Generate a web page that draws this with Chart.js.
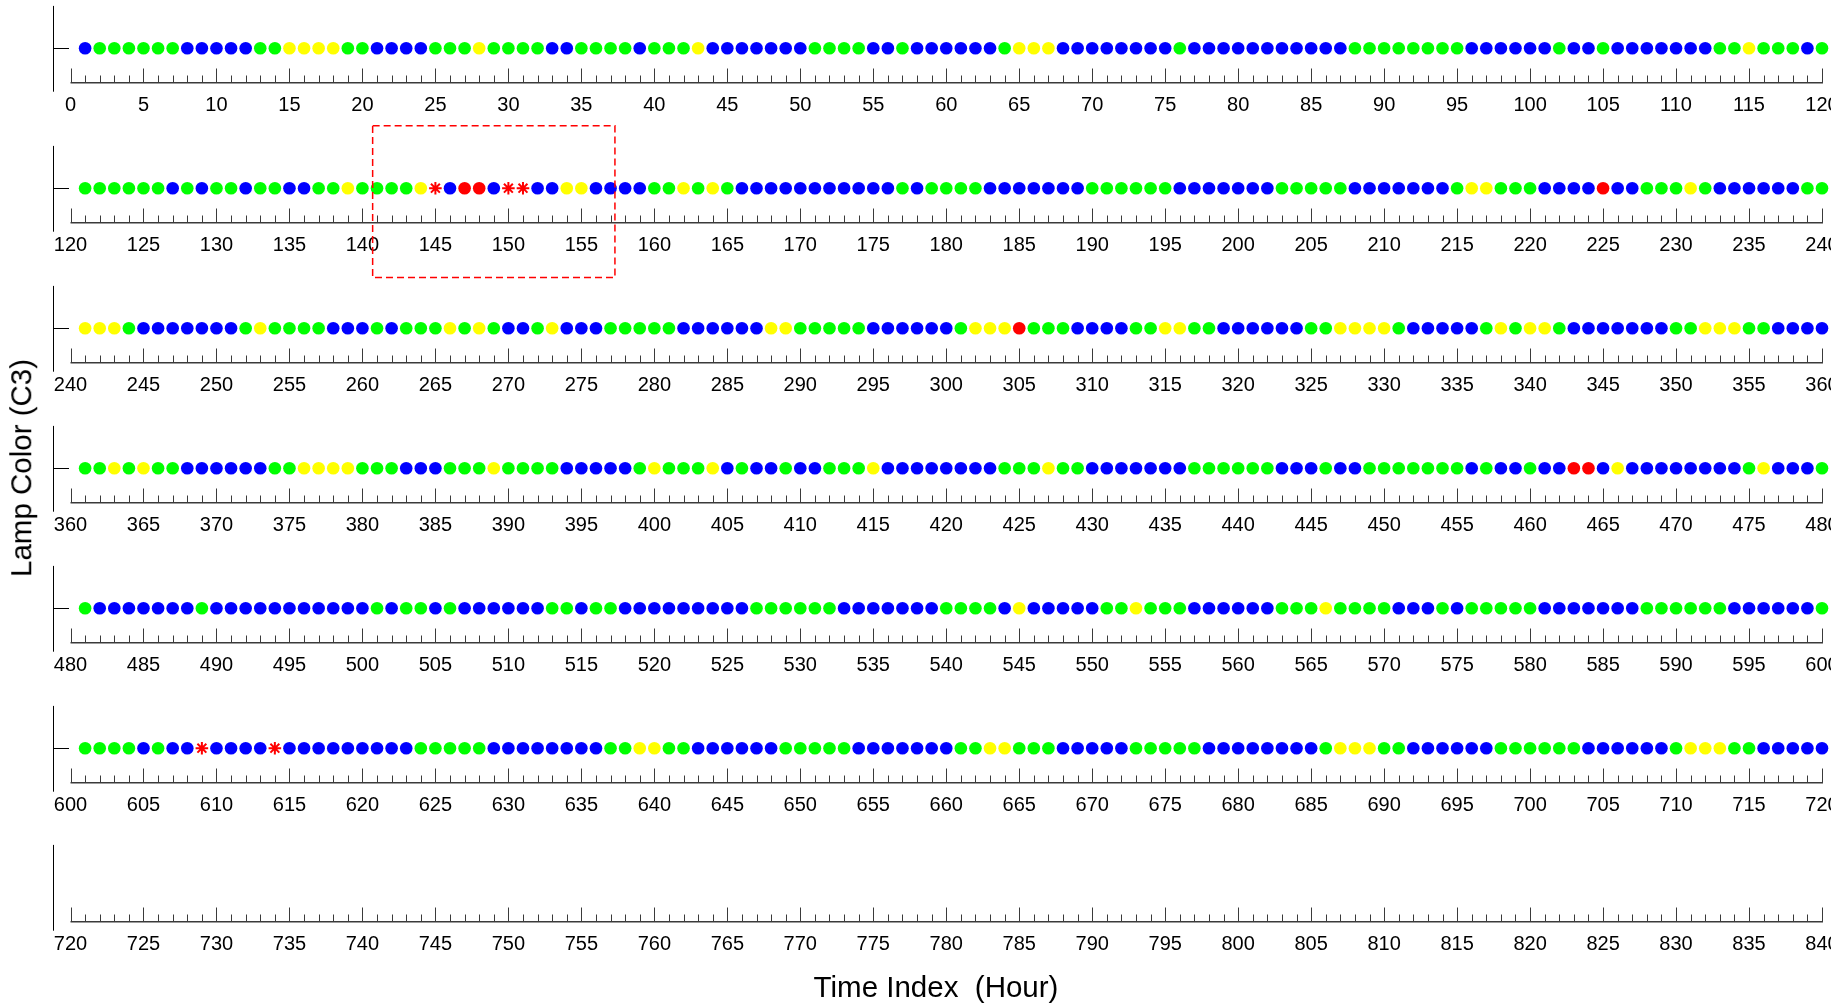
<!DOCTYPE html>
<html>
<head>
<meta charset="utf-8">
<title>Lamp Color (C3)</title>
<script src="https://cdn.jsdelivr.net/npm/chart.js@4.4.1/dist/chart.umd.min.js"></script>
<style>
  html, body { margin: 0; background: #fff; }
  #fig { position: relative; width: 1831px; height: 1003px; overflow: hidden; background: #fff;
         font-family: "Liberation Sans", Arial, sans-serif; }
  #fig canvas { position: absolute; left: 0; }
  .ttl { position: absolute; color: #000; font-size: 29.5px; white-space: pre; line-height: 1; }
  #xTitle { left: 936px; top: 987px; transform: translate(-50%, -50%); }
  #yTitle { left: 21px; top: 468px; transform: translate(-50%, -50%) rotate(-90deg); }
</style>
</head>
<body>
<div id="fig">
  <div class="ttl" id="yTitle">Lamp Color (C3)</div>
  <div class="ttl" id="xTitle">Time Index  (Hour)</div>
</div>
<script>
// lamp colour per hour: B blue, G green, Y yellow, R red, * red star (fault)
const codes = s => s.replace(/\s+/g, '').split('');

const hours001to120 = codes(`BGGGGGGBBB BBGGYYYYGG BBBBGGGYGG GGBBGGGGBG GGYBBBBBBB GGGGBBGBBB
                             BBBGYYYBBB BBBBBGBBBB BBBBBBBGGG GGGGGBBBBB BGBBGBBBBB BBGGYGGGBG`);
const hours121to240 = codes(`GGGGGGBGBG GBGGBBGGYG GGGY*BRRB* *BBYYBBBBG GYGYGBBBBB BBBBBBGBGG
                             GGBBBBBBBG GGGGGBBBBB BBGGGGGBBB BBBBGYYGGG BBBBRBBGGG YGBBBBBBGG`);
const hours241to360 = codes(`YYYGBBBBBB BGYGGGGBBB GBGGGYGYGB BGYBBBGGGG GBBBBBBYYG GGGGBBBBBB
                             GYYYRGGGBB BBGGYYGGBB BBBBGGYYYY GBBBBBGYGY YGBBBBBBBG GYYYGGBBBB`);
const hours361to480 = codes(`GGYGYGGBBB BBBGGYYYYG GGBBBGGGYG GGGBBBBBGY GGGYBGBBGB BGGGYBBBBB
                             BBBGGGYGGB BBBBBBGGGG GGBBBGBBGG GGGGGBGBBG BBRRBYBBBB BBBBGYBBBG`);
const hours481to600 = codes(`GBBBBBBBGB BBBBBBBBBB GBGGBGBBBB BBGGBGGBBB BBBBBBGGGG GGBBBBBBBG
                             GGGBYBBBBB GGYGGGBBBB BBGGGYGGGG BBBGBGGGGG BBBBBBBGGG GGGBBBBBBG`);
const hours601to720 = codes(`GGGGBGBB*B BBB*BBBBBB BBBGGGGGBB BBBBBBGGYY GGBBBBBBGG GGGBBBBBBB
                             GGYYGGGBBB BBGGGGGBBB BBBBBGYYYG GBBBBBBGGG GGGBBBBBBG YYYGGBBBBB`);
const hours721to840 = [];

const rows = [hours001to120, hours121to240, hours241to360, hours361to480,
              hours481to600, hours601to720, hours721to840];
const hoursPerRow = 120;
const labelStep = 5;

// dashed frame around the fault cluster in the second strip (hour range, y in level units)
const faultBox = { row: 1, from: 140.7, to: 157.3, top: 2.83, bottom: -1.62 };

const lampStyles = {
  B:   { color: '#0000ff', style: 'circle' },
  G:   { color: '#00ff00', style: 'circle' },
  Y:   { color: '#ffff00', style: 'circle' },
  R:   { color: '#ff0000', style: 'circle' },
  '*': { color: '#ff0000', style: 'star' }
};

const ROW_PITCH = 139.9;
const CANVAS_W = 1843, CANVAS_H = 160, CANVAS_SHIFT = 20;

// baseline with hourly minor ticks and 5-hour major ticks, plus left spine
const axisFrame = {
  id: 'axisFrame',
  afterDraw(chart, args, opts) {
    const { ctx, chartArea: a, scales: { x, y } } = chart;
    const yBase = Math.round(y.getPixelForValue(0)) + 0.5;
    const yLevel = Math.round(y.getPixelForValue(1)) + 0.5;
    ctx.save();
    ctx.lineWidth = 1;
    ctx.strokeStyle = '#000';
    ctx.beginPath();
    ctx.moveTo(Math.round(a.left) + 0.5, a.top);
    ctx.lineTo(Math.round(a.left) + 0.5, a.bottom);
    if (opts.levelTick) {
      ctx.moveTo(a.left, yLevel);
      ctx.lineTo(a.left + 16, yLevel);
    }
    ctx.stroke();

    ctx.strokeStyle = '#3a3a3a';
    ctx.beginPath();
    for (let h = opts.start; h <= opts.start + hoursPerRow; h++) {
      const px = Math.round(x.getPixelForValue(h)) + 0.5;
      const len = h % labelStep === 0 ? 14 : 7;
      ctx.moveTo(px, yBase);
      ctx.lineTo(px, yBase - len);
    }
    ctx.stroke();
    ctx.lineWidth = 1.6;
    ctx.beginPath();
    ctx.moveTo(x.getPixelForValue(opts.start), yBase + 0.3);
    ctx.lineTo(x.getPixelForValue(opts.start + hoursPerRow) + 1, yBase + 0.3);
    ctx.stroke();

    if (opts.box) {
      const b = opts.box;
      const x0 = x.getPixelForValue(b.from), x1 = x.getPixelForValue(b.to);
      const y0 = y.getPixelForValue(b.top), y1 = y.getPixelForValue(b.bottom);
      ctx.strokeStyle = '#ff0000';
      ctx.lineWidth = 1.5;
      ctx.setLineDash([7, 4]);
      ctx.strokeRect(x0, y0, x1 - x0, y1 - y0);
    }
    ctx.restore();
  }
};

const fig = document.getElementById('fig');

rows.forEach((rowCodes, r) => {
  const start = r * hoursPerRow;
  const canvas = document.createElement('canvas');
  canvas.width = CANVAS_W;
  canvas.height = CANVAS_H;
  canvas.style.top = (r * ROW_PITCH - CANVAS_SHIFT) + 'px';
  fig.insertBefore(canvas, fig.firstChild);

  const datasets = Object.keys(lampStyles).map(code => {
    const st = lampStyles[code];
    const pts = [];
    rowCodes.forEach((c, i) => { if (c === code) pts.push({ x: start + i + 1, y: 1 }); });
    return {
      data: pts,
      clip: false,
      pointStyle: st.style,
      pointRadius: 6.3,
      backgroundColor: st.color,
      borderColor: st.color,
      borderWidth: st.style === 'star' ? 2 : 0
    };
  });

  const labels = [];
  for (let v = start; v <= start + hoursPerRow; v += labelStep) labels.push(v);

  new Chart(canvas, {
    type: 'scatter',
    data: { datasets },
    options: {
      responsive: false,
      animation: false,
      events: [],
      layout: { padding: { left: 53, right: 21, top: 25.9, bottom: 0 } },
      plugins: {
        legend: { display: false },
        tooltip: { enabled: false },
        axisFrame: { start, levelTick: rowCodes.length > 0, box: r === faultBox.row ? faultBox : null }
      },
      scales: {
        x: {
          type: 'linear',
          min: start - 1.2,
          max: start + hoursPerRow,
          grid: { display: false },
          border: { display: false },
          afterBuildTicks: s => { s.ticks = labels.map(v => ({ value: v })); },
          afterFit: s => { s.height = CANVAS_H - 111.7; },
          ticks: {
            padding: -6,
            autoSkip: false,
            maxRotation: 0,
            color: '#000',
            font: { family: '"Liberation Sans", Arial, sans-serif', size: 20 }
          }
        },
        y: { display: false, min: -0.2757, max: 2.24 }
      }
    },
    plugins: [axisFrame]
  });
});
</script>
</body>
</html>
